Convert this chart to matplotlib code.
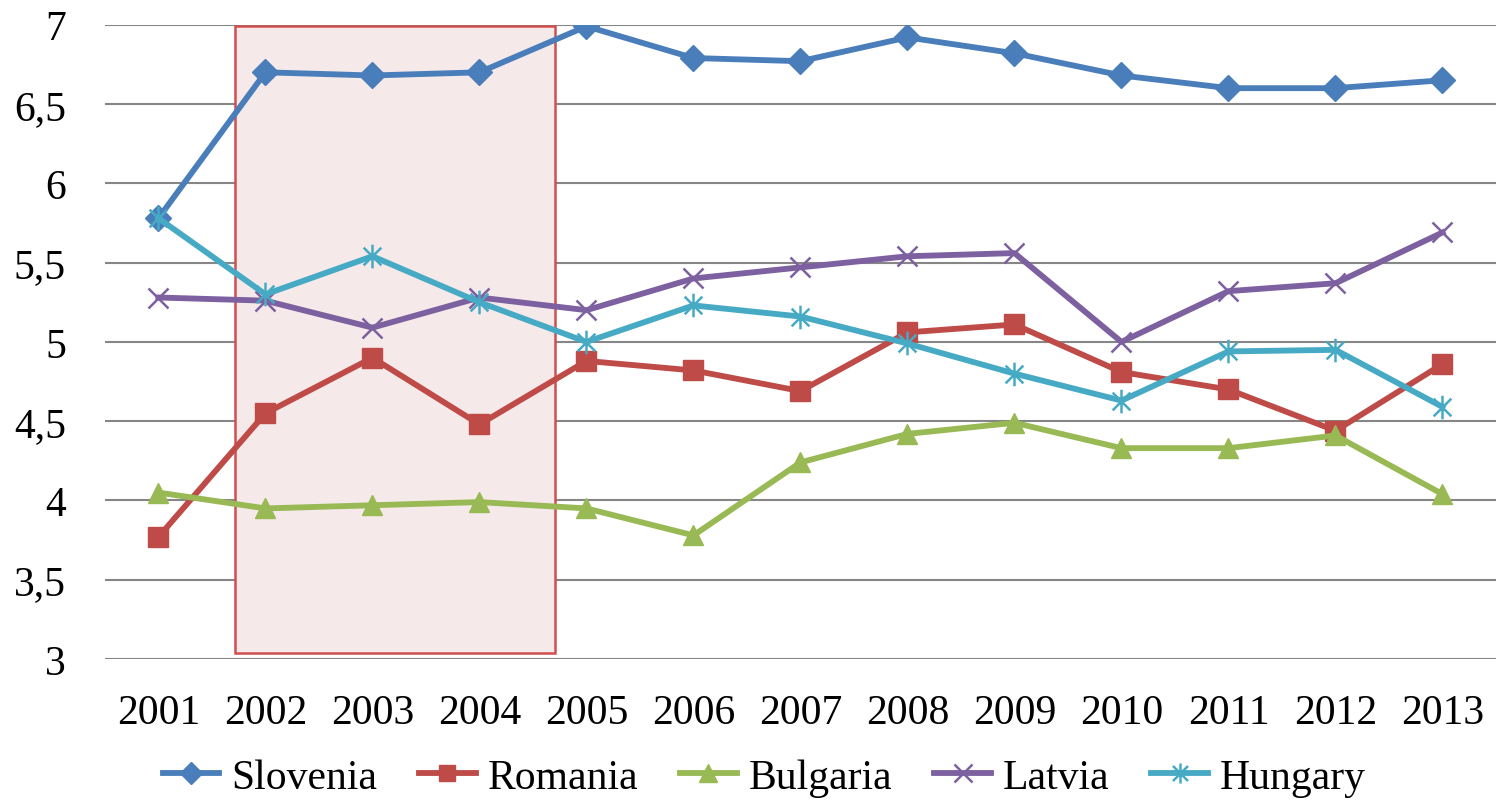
import numpy as np
import matplotlib
matplotlib.use('Agg')
import matplotlib.pyplot as plt
from matplotlib.path import Path
from matplotlib.patches import Rectangle

years = [2001, 2002, 2003, 2004, 2005, 2006, 2007, 2008, 2009, 2010, 2011, 2012, 2013]
slovenia = [5.78, 6.70, 6.68, 6.70, 6.99, 6.79, 6.77, 6.92, 6.82, 6.68, 6.60, 6.60, 6.65]
romania = [3.77, 4.55, 4.90, 4.48, 4.88, 4.82, 4.69, 5.06, 5.11, 4.81, 4.70, 4.44, 4.86]
bulgaria = [4.05, 3.95, 3.97, 3.99, 3.95, 3.78, 4.24, 4.42, 4.49, 4.33, 4.33, 4.41, 4.04]
latvia = [5.28, 5.26, 5.09, 5.28, 5.20, 5.40, 5.47, 5.54, 5.56, 5.00, 5.32, 5.37, 5.69]
hungary = [5.78, 5.30, 5.54, 5.25, 5.00, 5.23, 5.16, 4.99, 4.80, 4.63, 4.94, 4.95, 4.59]

# highlighted period (x from, x to, y from, y to)
box_x = (2001.72, 2004.71)
box_y = (3.04, 6.99)

plt.rcParams['font.family'] = ['Liberation Serif', 'DejaVu Serif']
plt.rcParams['font.size'] = 30

# Excel-style asterisk marker
star = Path([(0, -1), (0, 1), (-0.75, -0.75), (0.75, 0.75), (-0.75, 0.75), (0.75, -0.75)],
            [Path.MOVETO, Path.LINETO, Path.MOVETO, Path.LINETO, Path.MOVETO, Path.LINETO])

fig = plt.figure(figsize=(14.99, 8.04), dpi=100)
ax = fig.add_axes([0.070, 0.179, 0.928, 0.789])

ax.add_patch(Rectangle((box_x[0], box_y[0]), box_x[1] - box_x[0], box_y[1] - box_y[0],
                       facecolor='#f6e9e9', edgecolor='#cf4f4f', linewidth=1.8, zorder=1))

lw = 4.2
ax.plot(years, slovenia, color='#4a7ebb', lw=lw, marker='D', ms=13, label='Slovenia', zorder=3)
ax.plot(years, romania, color='#be4b48', lw=lw, marker='s', ms=14, label='Romania', zorder=3)
ax.plot(years, bulgaria, color='#98b954', lw=lw, marker='^', ms=15, label='Bulgaria', zorder=3)
ax.plot(years, latvia, color='#7d60a0', lw=lw, marker='x', ms=15, mew=1.8, label='Latvia', zorder=3)
ax.plot(years, hungary, color='#46aac5', lw=lw, marker=star, ms=17, mew=1.8, label='Hungary', zorder=3)

ax.set_xlim(2000.5, 2013.5)
ax.set_ylim(3, 7)
ax.set_xticks(years)
ax.set_yticks(np.arange(3, 7.01, 0.5))
ax.set_yticklabels([('%g' % v).replace('.', ',') for v in np.arange(3, 7.01, 0.5)])
ax.tick_params(axis='x', length=0, pad=25)
ax.tick_params(axis='y', length=0, pad=28)
ax.grid(axis='y', color='#868686', lw=1.5, zorder=0)
ax.set_axisbelow(True)
for s in ax.spines.values():
    s.set_visible(False)

fig.legend(loc='center', bbox_to_anchor=(0.51, 0.032), ncol=5, frameon=False,
           handlelength=1.35, handletextpad=0.3, columnspacing=1.0, fontsize=30,
           markerscale=0.85)

fig.savefig('out.png', dpi=100)
